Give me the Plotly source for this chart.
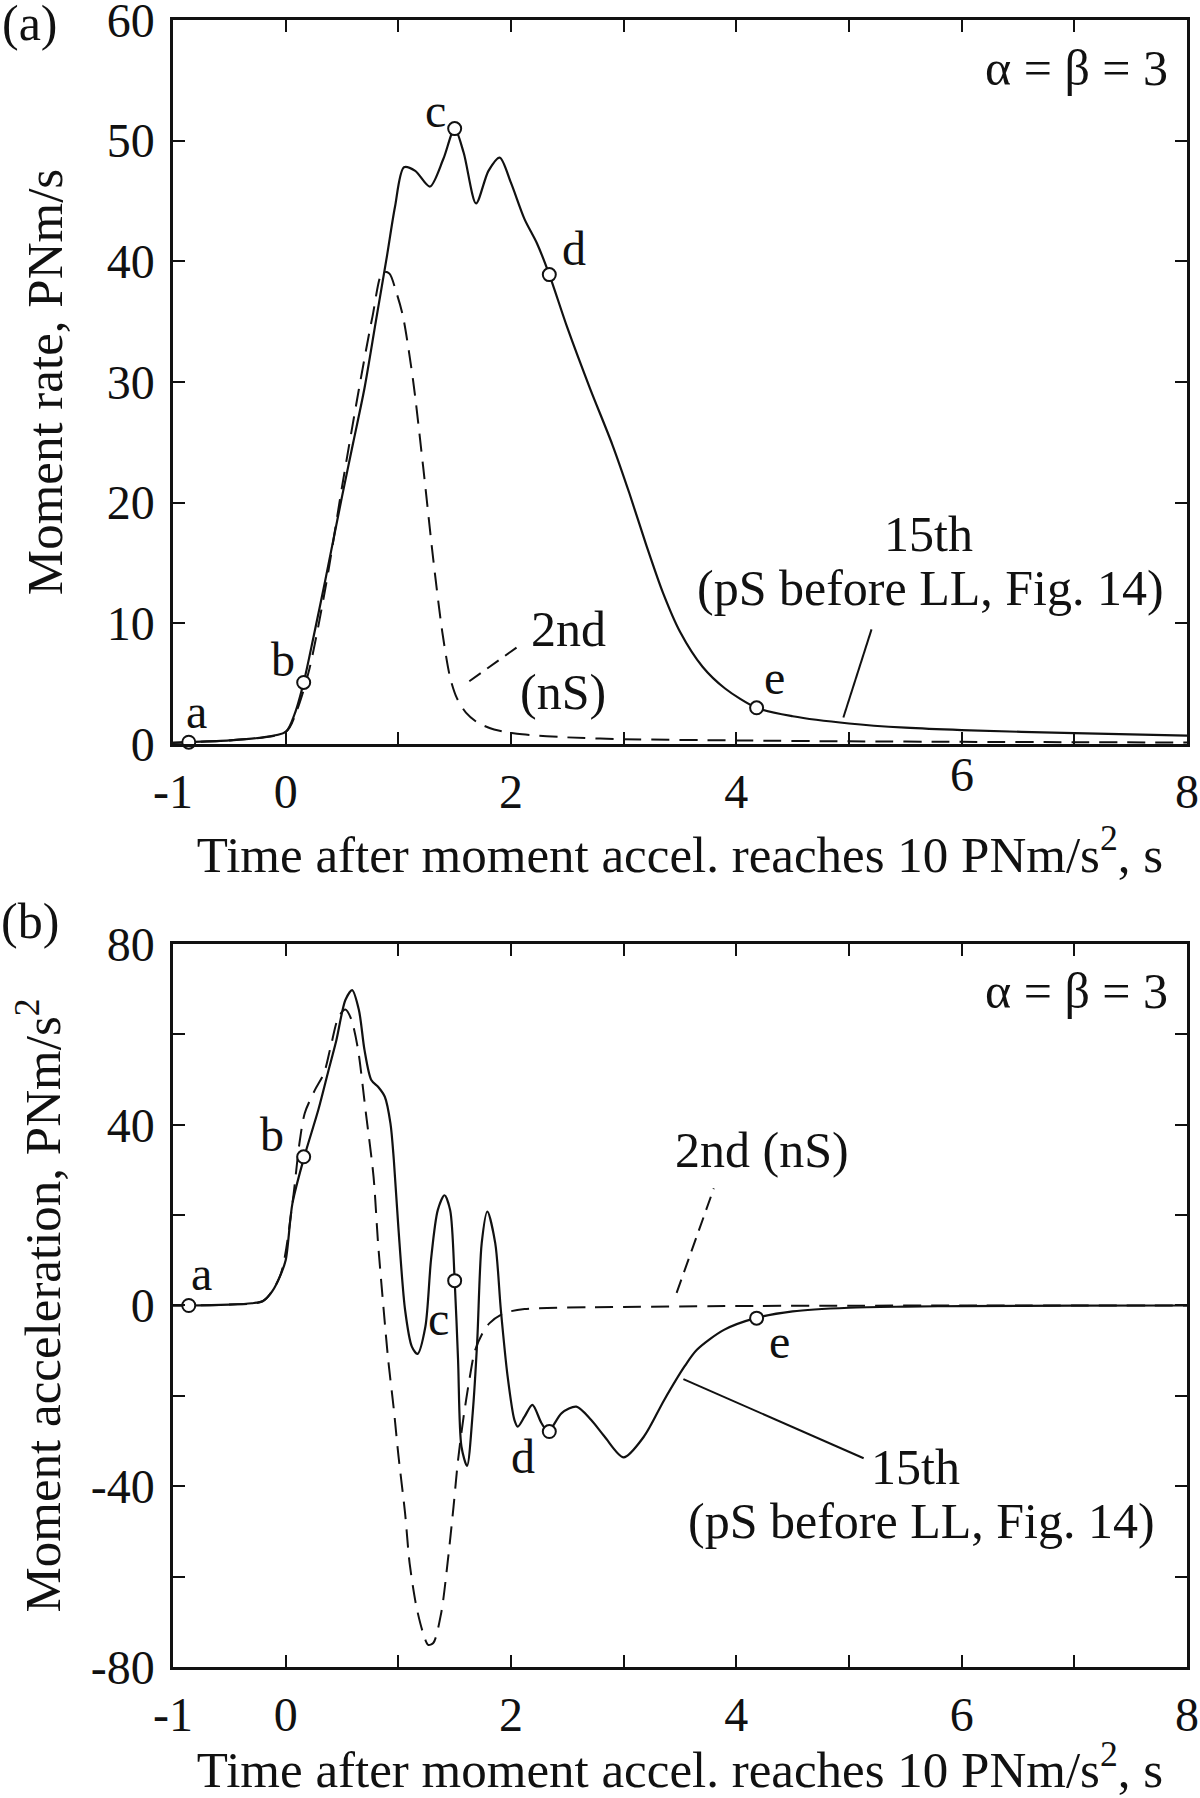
import plotly.graph_objects as go

# ---------------- data: panel (a) moment rate ----------------
rate_15_t = [-1, -0.86, -0.5, -0.25, 0, 0.08, 0.16, 0.25, 0.35, 0.5, 0.6, 0.7, 0.8, 0.9, 0.97,
             1.05, 1.15, 1.28, 1.4, 1.5, 1.58, 1.69, 1.8, 1.9, 2.0, 2.12, 2.23, 2.34, 2.5, 2.7,
             2.9, 3.05, 3.2, 3.35, 3.5, 3.7, 3.9, 4.18, 4.5, 5.0, 5.5, 6.0, 7.0, 8.0]
rate_15_v = [0.1, 0.15, 0.3, 0.5, 1.0, 2.5, 5.1, 9.0, 13.5, 20.5, 25, 29.5, 35, 40.5, 44.5,
             47.8, 47.5, 46.2, 48.5, 51.0, 49, 44.8, 47.5, 48.6, 46.5, 43.5, 41.5, 38.9, 34.5, 29.5,
             24.8, 20.8, 16.5, 12.5, 9.3, 6.4, 4.6, 3.0, 2.3, 1.7, 1.35, 1.15, 0.9, 0.7]

rate_2_t = [-1, -0.86, -0.5, 0, 0.1, 0.21, 0.36, 0.5, 0.65, 0.77, 0.86, 0.92, 0.98, 1.04, 1.13,
            1.22, 1.31, 1.39, 1.46, 1.52, 1.6, 1.7, 1.85, 2.1, 2.5, 3.0, 4.0, 5.0, 6.0, 7.0, 8.0]
rate_2_v = [0.1, 0.15, 0.3, 1.0, 2.8, 6.2, 13.3, 21.3, 29.4, 35.4, 39.1, 39.0, 37.5, 35.5, 30.2,
            23, 15.3, 9.3, 5.5, 3.8, 2.6, 1.8, 1.2, 0.8, 0.55, 0.4, 0.3, 0.22, 0.18, 0.15, 0.12]

# ---------------- data: panel (b) moment acceleration ----------------
acc_15_t = [-1, -0.86, -0.5, -0.3, -0.2, -0.12, -0.05, 0.0, 0.06, 0.165, 0.29, 0.38, 0.45, 0.53,
            0.59, 0.65, 0.70, 0.76, 0.82, 0.88, 0.93, 0.96, 1.0, 1.06, 1.12, 1.17, 1.24, 1.29,
            1.35, 1.41, 1.46, 1.50, 1.53, 1.56, 1.61, 1.66, 1.70, 1.74, 1.79, 1.86, 1.91, 1.97,
            2.03, 2.06, 2.12, 2.19, 2.27, 2.33, 2.45, 2.58, 2.71, 2.83, 3.0, 3.18, 3.36, 3.54,
            3.65, 3.89, 4.17, 4.5, 5.0, 5.5, 6.0, 7.0, 8.0]
acc_15_v = [0, 0, 0.2, 0.5, 1.0, 3.1, 6.5, 10, 22.6, 32.9, 43.3, 52, 58.7, 67.6,
            69.8, 65.4, 56.5, 49.9, 48.4, 46.2, 40.3, 32.2, 17.4, -1, -9.1, -10.7, -4.7, 10.1,
            21.1, 24.4, 21.1, 5.5, -12, -31.2, -35.5, -23.8, -8, 13.8, 20.8, 13.8, -1, -15.7,
            -25.3, -26.8, -24.6, -22, -26, -27.9, -23.8, -22.4, -25.3, -29, -33.6, -29, -20.9, -13.5,
            -9.8, -5.4, -2.8, -1.3, -0.5, -0.25, -0.12, -0.04, 0]

acc_2_t = [-1, -0.86, -0.5, -0.2, -0.05, 0.06, 0.12, 0.17, 0.26, 0.34, 0.40, 0.47, 0.53, 0.58,
           0.64, 0.71, 0.78, 0.82, 0.87, 0.91, 0.96, 1.0, 1.06, 1.10, 1.16, 1.22, 1.265, 1.31,
           1.38, 1.44, 1.49, 1.53, 1.58, 1.63, 1.68, 1.75, 1.81, 1.94, 2.12, 2.71, 4.19, 5.0, 6.0, 8.0]
acc_2_v = [0, 0, 0.2, 1.0, 6.5, 22.6, 35.5, 42.6, 47.7, 51.4, 57.3, 63.9, 65.5, 63.5,
           57, 43, 28.5, 13.8, -1, -12, -23, -33, -46, -57, -66.6, -72.5, -75.1, -74.7,
           -68.1, -56.3, -44.5, -34.2, -24.5, -16.5, -10, -6, -3.9, -1.7, -0.8, -0.4, -0.1, -0.05, 0, 0]

# ---------------- labelled points a-e ----------------
pt_names = ["a", "b", "c", "d", "e"]
pt_t = [-0.86, 0.16, 1.50, 2.34, 4.18]
pt_rate = [0.15, 5.1, 51.0, 38.9, 3.0]
pt_acc = [0.0, 32.9, 5.5, -27.9, -2.8]

# point-label text positions (data units)
lab_a_x = [-0.79, -0.02, 1.33, 2.56, 4.34]
lab_a_y = [2.7, 7.0, 52.5, 41.1, 5.5]
lab_b_x = [-0.75, -0.12, 1.36, 2.11, 4.38]
lab_b_y = [7.1, 37.8, -2.8, -33.5, -7.9]

# ---------------- axes ticks ----------------
x_ticks = [-1, 0, 1, 2, 3, 4, 5, 6, 7, 8]
x_ticktext_a = ["-1", "0", "", "2", "", "4", "", "", "", "8"]
x_ticktext_b = ["-1", "0", "", "2", "", "4", "", "6", "", "8"]
ya_ticks = [0, 10, 20, 30, 40, 50, 60]
ya_ticktext = ["0", "10", "20", "30", "40", "50", "60"]
yb_ticks = [-80, -60, -40, -20, 0, 20, 40, 60, 80]
yb_ticktext = ["-80", "", "-40", "", "0", "", "40", "", "80"]

# leader lines (data units): [x0, y0, x1, y1]
lead_a_15 = [4.95, 2.2, 5.2, 9.5]
lead_a_2 = [1.63, 5.2, 2.05, 8.0]
lead_b_15 = [3.53, -16.3, 5.13, -33.8]
lead_b_2 = [3.47, 2.8, 3.80, 25.9]

FONT = "Liberation Serif, Times New Roman, serif"
BLACK = "#111111"
DASH = "18px,10px"
LEAD_DASH = "14px,8px"

fig = go.Figure()

# panel (a)
fig.add_trace(go.Scatter(x=rate_2_t, y=rate_2_v, mode="lines", xaxis="x", yaxis="y",
                         line=dict(color=BLACK, width=2, dash=DASH, shape="spline", smoothing=0.8),
                         showlegend=False))
fig.add_trace(go.Scatter(x=rate_15_t, y=rate_15_v, mode="lines", xaxis="x", yaxis="y",
                         line=dict(color=BLACK, width=2.2, shape="spline", smoothing=0.8),
                         showlegend=False))
fig.add_trace(go.Scatter(x=pt_t, y=pt_rate, mode="markers", xaxis="x", yaxis="y",
                         marker=dict(symbol="circle", size=13, color="white",
                                     line=dict(color=BLACK, width=2)),
                         showlegend=False, cliponaxis=False))

# panel (b)
fig.add_trace(go.Scatter(x=acc_2_t, y=acc_2_v, mode="lines", xaxis="x2", yaxis="y2",
                         line=dict(color=BLACK, width=2, dash=DASH, shape="spline", smoothing=0.8),
                         showlegend=False))
fig.add_trace(go.Scatter(x=acc_15_t, y=acc_15_v, mode="lines", xaxis="x2", yaxis="y2",
                         line=dict(color=BLACK, width=2.2, shape="spline", smoothing=0.8),
                         showlegend=False))
fig.add_trace(go.Scatter(x=pt_t, y=pt_acc, mode="markers", xaxis="x2", yaxis="y2",
                         marker=dict(symbol="circle", size=13, color="white",
                                     line=dict(color=BLACK, width=2)),
                         showlegend=False, cliponaxis=False))

ax_common = dict(showline=True, linecolor=BLACK, linewidth=2.5, mirror="ticks",
                 ticks="inside", ticklen=12, tickwidth=2, tickcolor=BLACK,
                 showgrid=False, zeroline=False, automargin=False, ticklabeloverflow="allow",
                 tickfont=dict(family=FONT, size=48, color=BLACK))

xtitle = "Time after moment accel. reaches 10 PNm/s<sup>2</sup>, s"
TITLE_FONT = dict(family=FONT, size=51, color=BLACK)

W, H = 1200, 1798
fig.update_layout(
    width=W, height=H,
    margin=dict(l=173, r=13, t=20, b=131),
    paper_bgcolor="white", plot_bgcolor="white",
    font=dict(family=FONT, size=48, color=BLACK),
    xaxis=dict(domain=[0, 1], range=[-1, 8], tickvals=x_ticks, ticktext=x_ticktext_a,
               anchor="y", ticklabelstandoff=4,
               title=dict(text=xtitle, font=TITLE_FONT, standoff=10),
               **ax_common),
    yaxis=dict(domain=[0.5604, 1], range=[-0.001, 60.001], tickvals=ya_ticks, ticktext=ya_ticktext,
               anchor="x", ticklabelstandoff=6,
               title=dict(text="Moment rate, PNm/s", font=TITLE_FONT, standoff=28),
               **ax_common),
    xaxis2=dict(domain=[0, 1], range=[-1, 8], tickvals=x_ticks, ticktext=x_ticktext_b,
                anchor="y2", ticklabelstandoff=4,
                title=dict(text=xtitle, font=TITLE_FONT, standoff=20),
                **ax_common),
    yaxis2=dict(domain=[0, 0.4390], range=[-80.001, 80.001], tickvals=yb_ticks, ticktext=yb_ticktext,
                anchor="x2", ticklabelstandoff=6,
                title=dict(text="Moment acceleration, PNm/s<sup>2</sup>",
                           font=TITLE_FONT, standoff=14),
                **ax_common),
)

ann = []
def add_text(text, x, y, xref, yref, size=48, xanchor="center", yanchor="middle"):
    ann.append(dict(text=text, x=x, y=y, xref=xref, yref=yref, showarrow=False,
                    xanchor=xanchor, yanchor=yanchor,
                    font=dict(family=FONT, size=size, color=BLACK)))

for n, lx, ly in zip(pt_names, lab_a_x, lab_a_y):
    add_text(n, lx, ly, "x", "y")
for n, lx, ly in zip(pt_names, lab_b_x, lab_b_y):
    add_text(n, lx, ly, "x2", "y2")

add_text("\u03b1 = \u03b2 = 3", 7.85, 56, "x", "y", size=50, xanchor="right")
add_text("\u03b1 = \u03b2 = 3", 7.85, 69.6, "x2", "y2", size=50, xanchor="right")

add_text("15th", 5.71, 17.4, "x", "y", size=50)
add_text("(pS before LL, Fig. 14)", 5.72, 12.9, "x", "y", size=50)
add_text("2nd", 2.51, 9.5, "x", "y", size=50)
add_text("(nS)", 2.46, 4.3, "x", "y", size=50)

add_text("2nd (nS)", 4.23, 34.5, "x2", "y2", size=50)
add_text("15th", 5.59, -35.8, "x2", "y2", size=50)
add_text("(pS before LL, Fig. 14)", 5.64, -47.7, "x2", "y2", size=50)

# tick label "6" of panel (a), which sits slightly raised in the original
add_text("6", 6, 0.5416, "x", "paper", size=48)

add_text("(a)", -0.141, 0.998, "paper", "paper", size=50)
add_text("(b)", -0.141, 0.453, "paper", "paper", size=50)

fig.update_layout(annotations=ann)

shapes = []
for (x0, y0, x1, y1), xr, yr, d in [(lead_a_15, "x", "y", "solid"), (lead_a_2, "x", "y", LEAD_DASH),
                                    (lead_b_15, "x2", "y2", "solid"), (lead_b_2, "x2", "y2", LEAD_DASH)]:
    shapes.append(dict(type="line", x0=x0, y0=y0, x1=x1, y1=y1, xref=xr, yref=yr,
                       line=dict(color=BLACK, width=2, dash=d)))
fig.update_layout(shapes=shapes)

# remove the default page margin so the figure fills the 1200x1798 window exactly
fig.write_html("out.html", config={"displayModeBar": False},
               post_script="document.body.style.margin='0';document.body.style.overflow='hidden';")
